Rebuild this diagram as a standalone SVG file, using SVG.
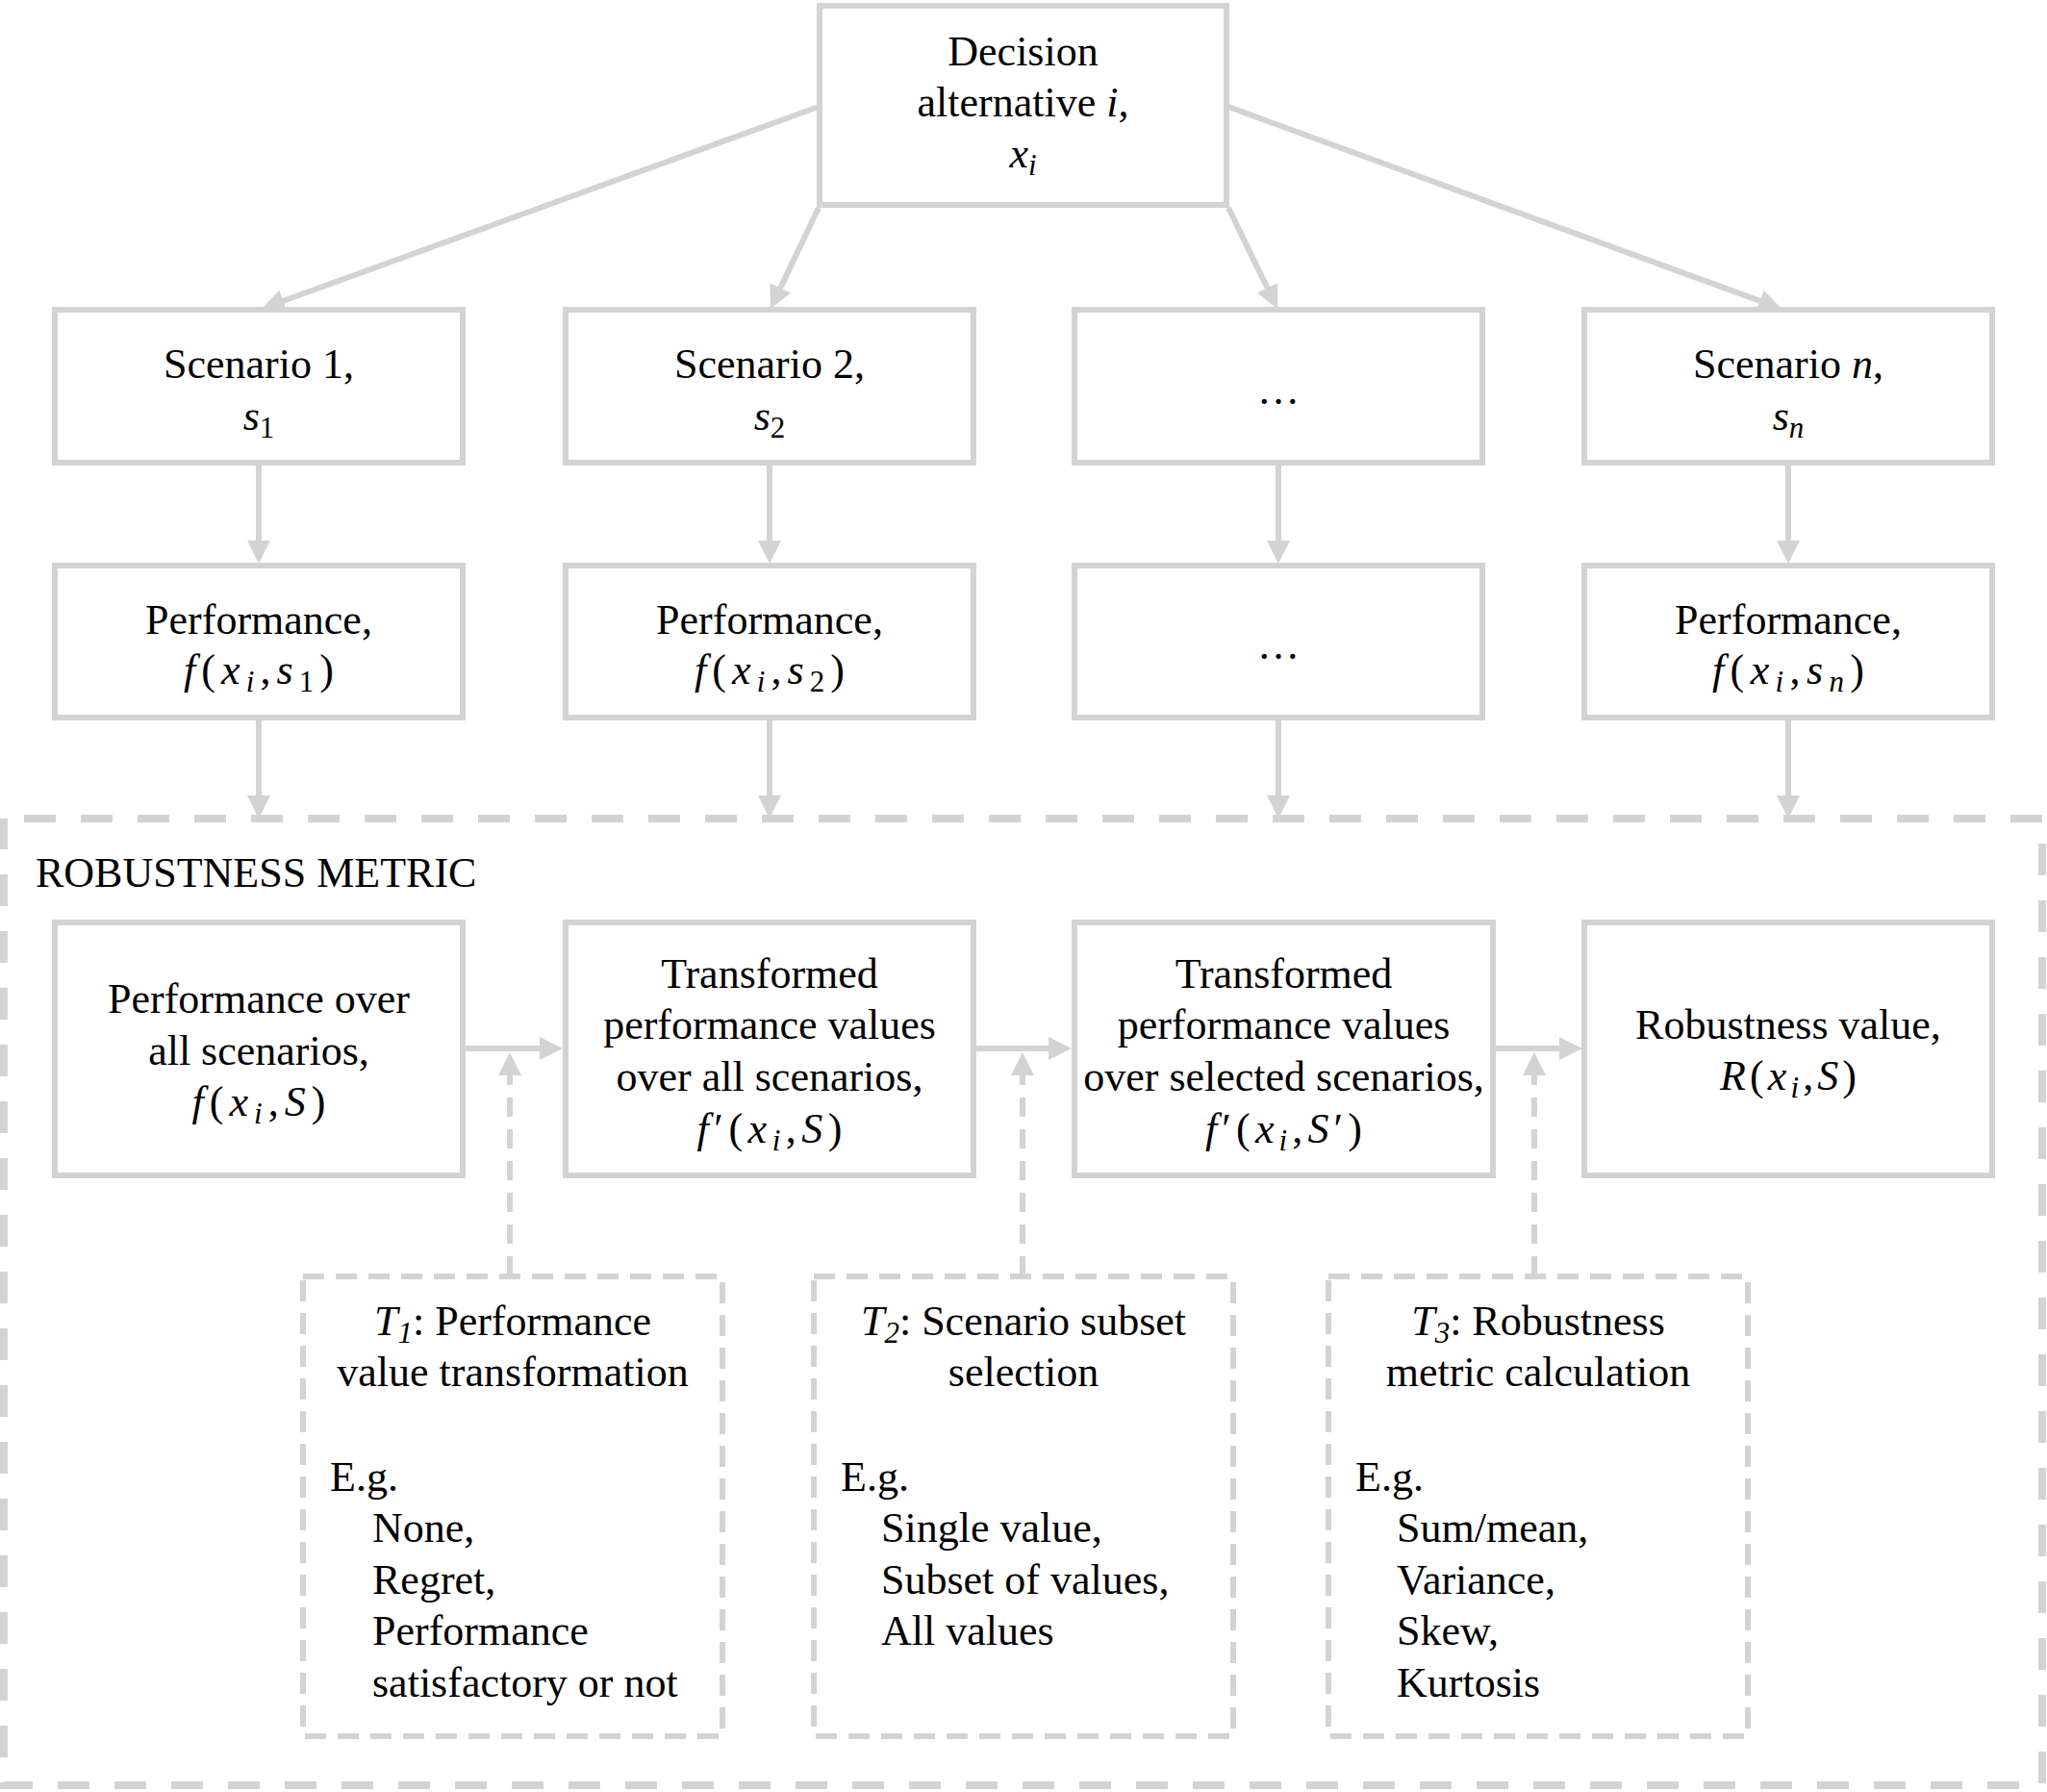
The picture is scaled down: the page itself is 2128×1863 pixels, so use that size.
<svg xmlns="http://www.w3.org/2000/svg" width="2128" height="1863" viewBox="0 0 2128 1863">
<defs>
<style>
.box{fill:#fff;stroke:#d3d3d3;stroke-width:6}
.dbox{fill:#fff;stroke:#d3d3d3;stroke-width:6;stroke-dasharray:22 12}
.outer{fill:none;stroke:#d3d3d3;stroke-width:8;stroke-dasharray:33 26;stroke-dashoffset:38}
.c{fill:none;stroke:#d3d3d3;stroke-width:6}
.cd{fill:none;stroke:#d3d3d3;stroke-width:6;stroke-dasharray:20 13}
text{font-family:"Liberation Serif","Times New Roman",serif;font-size:44px;fill:#000}
.mid{text-anchor:middle}
.i{font-style:italic}
.sub{font-size:31px}
</style>
<marker id="ah" markerUnits="userSpaceOnUse" markerWidth="24" markerHeight="24" refX="16" refY="12" orient="auto"><path d="M0,0 L24,12 L0,24 Z" fill="#d3d3d3"/></marker>
</defs>
<rect width="2128" height="1863" fill="#fff"/>

<g id="robustness-metric">
<rect class="outer" x="4" y="851" width="2119" height="1005"/>
<text x="37" y="922">ROBUSTNESS METRIC</text>
</g>

<g id="decision">
<rect class="box" x="852" y="6" width="423" height="207"/>
<text class="mid" x="1063.5" y="68">Decision</text>
<text class="mid" x="1063.5" y="121">alternative <tspan class="i">i</tspan>,</text>
<text class="mid" x="1063.5" y="174"><tspan class="i">x</tspan><tspan class="i sub" dy="8">i</tspan></text>
</g>

<g id="scenario-1">
<rect class="box" x="57" y="322" width="424" height="159"/>
<text class="mid" x="269" y="393">Scenario 1,</text>
<text class="mid" x="269" y="447"><tspan class="i">s</tspan><tspan class="sub" dy="8">1</tspan></text>
</g>
<g id="scenario-2">
<rect class="box" x="588" y="322" width="424" height="159"/>
<text class="mid" x="800" y="393">Scenario 2,</text>
<text class="mid" x="800" y="447"><tspan class="i">s</tspan><tspan class="sub" dy="8">2</tspan></text>
</g>
<g id="scenario-dots">
<rect class="box" x="1117" y="322" width="424" height="159"/>
<text class="mid" x="1329" y="420">…</text>
</g>
<g id="scenario-n">
<rect class="box" x="1647" y="322" width="424" height="159"/>
<text class="mid" x="1859" y="393">Scenario <tspan class="i">n</tspan>,</text>
<text class="mid" x="1859" y="447"><tspan class="i">s</tspan><tspan class="i sub" dy="8">n</tspan></text>
</g>

<g id="performance-1">
<rect class="box" x="57" y="588" width="424" height="158"/>
<text class="mid" x="269" y="659">Performance,</text>
<text class="mid" x="269" y="711" textLength="156" lengthAdjust="spacing"><tspan class="i">f</tspan>(<tspan class="i">x</tspan><tspan class="i sub" dy="8">i</tspan><tspan dy="-8">,</tspan><tspan class="i">s</tspan><tspan class="sub" dy="8">1</tspan><tspan dy="-8">)</tspan></text>
</g>
<g id="performance-2">
<rect class="box" x="588" y="588" width="424" height="158"/>
<text class="mid" x="800" y="659">Performance,</text>
<text class="mid" x="800" y="711" textLength="156" lengthAdjust="spacing"><tspan class="i">f</tspan>(<tspan class="i">x</tspan><tspan class="i sub" dy="8">i</tspan><tspan dy="-8">,</tspan><tspan class="i">s</tspan><tspan class="sub" dy="8">2</tspan><tspan dy="-8">)</tspan></text>
</g>
<g id="performance-dots">
<rect class="box" x="1117" y="588" width="424" height="158"/>
<text class="mid" x="1329" y="685">…</text>
</g>
<g id="performance-n">
<rect class="box" x="1647" y="588" width="424" height="158"/>
<text class="mid" x="1859" y="659">Performance,</text>
<text class="mid" x="1859" y="711" textLength="158" lengthAdjust="spacing"><tspan class="i">f</tspan>(<tspan class="i">x</tspan><tspan class="i sub" dy="8">i</tspan><tspan dy="-8">,</tspan><tspan class="i">s</tspan><tspan class="i sub" dy="8">n</tspan><tspan dy="-8">)</tspan></text>
</g>

<g id="metric-1">
<rect class="box" x="57" y="959" width="424" height="263"/>
<text class="mid" x="269" y="1053">Performance over</text>
<text class="mid" x="269" y="1107">all scenarios,</text>
<text class="mid" x="269" y="1160" textLength="139" lengthAdjust="spacing"><tspan class="i">f</tspan>(<tspan class="i">x</tspan><tspan class="i sub" dy="8">i</tspan><tspan dy="-8">,</tspan><tspan class="i">S</tspan>)</text>
</g>
<g id="metric-2">
<rect class="box" x="588" y="959" width="424" height="263"/>
<text class="mid" x="800" y="1027">Transformed</text>
<text class="mid" x="800" y="1080">performance values</text>
<text class="mid" x="800" y="1134">over all scenarios,</text>
<text class="mid" x="800" y="1188" textLength="151" lengthAdjust="spacing"><tspan class="i">f</tspan>′(<tspan class="i">x</tspan><tspan class="i sub" dy="8">i</tspan><tspan dy="-8">,</tspan><tspan class="i">S</tspan>)</text>
</g>
<g id="metric-3">
<rect class="box" x="1117" y="959" width="435" height="263"/>
<text class="mid" x="1334.5" y="1027">Transformed</text>
<text class="mid" x="1334.5" y="1080">performance values</text>
<text class="mid" x="1334.5" y="1134">over selected scenarios,</text>
<text class="mid" x="1334.5" y="1188" textLength="163" lengthAdjust="spacing"><tspan class="i">f</tspan>′(<tspan class="i">x</tspan><tspan class="i sub" dy="8">i</tspan><tspan dy="-8">,</tspan><tspan class="i">S</tspan>′)</text>
</g>
<g id="metric-4">
<rect class="box" x="1647" y="959" width="424" height="263"/>
<text class="mid" x="1859" y="1080">Robustness value,</text>
<text class="mid" x="1859" y="1133" textLength="142" lengthAdjust="spacing"><tspan class="i">R</tspan>(<tspan class="i">x</tspan><tspan class="i sub" dy="8">i</tspan><tspan dy="-8">,</tspan><tspan class="i">S</tspan>)</text>
</g>

<g id="t1">
<rect class="dbox" x="315" y="1327" width="436" height="478"/>
<text class="mid" x="533" y="1388"><tspan class="i">T</tspan><tspan class="i sub" dy="8">1</tspan><tspan dy="-8">: Performance</tspan></text>
<text class="mid" x="533" y="1441">value transformation</text>
<text x="343" y="1550">E.g.</text>
<text x="387" y="1603">None,</text>
<text x="387" y="1657">Regret,</text>
<text x="387" y="1710">Performance</text>
<text x="387" y="1764">satisfactory or not</text>
</g>
<g id="t2">
<rect class="dbox" x="846" y="1327" width="436" height="478"/>
<text class="mid" x="1064" y="1388"><tspan class="i">T</tspan><tspan class="i sub" dy="8">2</tspan><tspan dy="-8">: Scenario subset</tspan></text>
<text class="mid" x="1064" y="1441">selection</text>
<text x="874" y="1550">E.g.</text>
<text x="916" y="1603">Single value,</text>
<text x="916" y="1657">Subset of values,</text>
<text x="916" y="1710">All values</text>
</g>
<g id="t3">
<rect class="dbox" x="1381" y="1327" width="436" height="478"/>
<text class="mid" x="1599" y="1388"><tspan class="i">T</tspan><tspan class="i sub" dy="8">3</tspan><tspan dy="-8">: Robustness</tspan></text>
<text class="mid" x="1599" y="1441">metric calculation</text>
<text x="1409" y="1550">E.g.</text>
<text x="1452" y="1603">Sum/mean,</text>
<text x="1452" y="1657">Variance,</text>
<text x="1452" y="1710">Skew,</text>
<text x="1452" y="1764">Kurtosis</text>
</g>

<g id="connectors">
<path class="c" marker-end="url(#ah)" d="M851,111 L279.5,318.3"/>
<path class="c" marker-end="url(#ah)" d="M851,216 L804.4,313.8"/>
<path class="c" marker-end="url(#ah)" d="M1277,216 L1324.5,313.8"/>
<path class="c" marker-end="url(#ah)" d="M1277,111 L1844.5,318.3"/>
<path class="c" marker-end="url(#ah)" d="M269,481 L269,578"/>
<path class="c" marker-end="url(#ah)" d="M800,481 L800,578"/>
<path class="c" marker-end="url(#ah)" d="M1329,481 L1329,578"/>
<path class="c" marker-end="url(#ah)" d="M1859,481 L1859,578"/>
<path class="c" marker-end="url(#ah)" d="M269,746 L269,843"/>
<path class="c" marker-end="url(#ah)" d="M800,746 L800,843"/>
<path class="c" marker-end="url(#ah)" d="M1329,746 L1329,843"/>
<path class="c" marker-end="url(#ah)" d="M1859,746 L1859,843"/>
<path class="c" marker-end="url(#ah)" d="M481,1090 L577,1090"/>
<path class="c" marker-end="url(#ah)" d="M1012,1090 L1106,1090"/>
<path class="c" marker-end="url(#ah)" d="M1552,1090 L1637,1090"/>
<path class="cd" marker-end="url(#ah)" d="M530,1326 L530,1102"/>
<path class="cd" marker-end="url(#ah)" d="M1063,1326 L1063,1102"/>
<path class="cd" marker-end="url(#ah)" d="M1595,1326 L1595,1102"/>
</g>
</svg>
